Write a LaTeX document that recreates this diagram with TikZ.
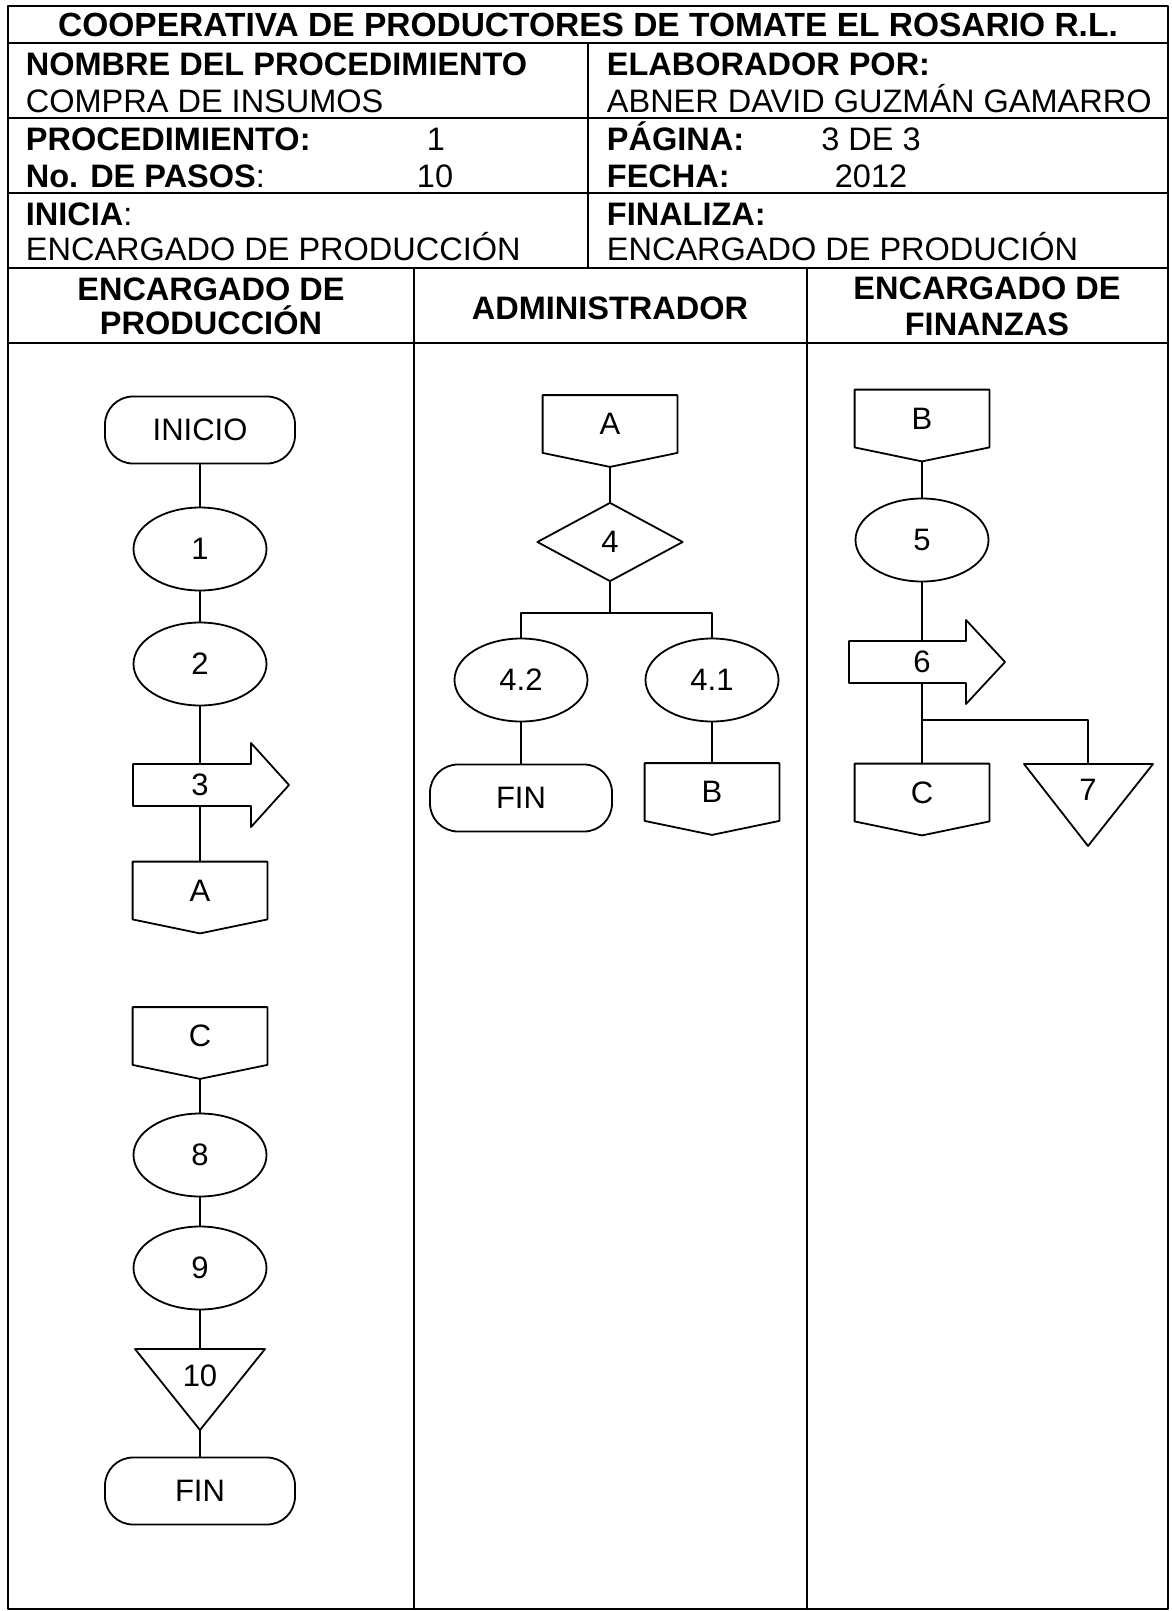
\documentclass[tikz,border=0pt]{standalone}
\usepackage{fontspec}
\setmainfont{Liberation Sans}
\usetikzlibrary{shapes.geometric}
\newcommand{\pagcon}[3]{%
  \node[minimum width=133,minimum height=56] (#1) at (#2) {#3};
  \draw (#1.north west)--(#1.north east)--(#1.south east)--([yshift=-14pt]#1.south)coordinate(#1-p)--(#1.south west)--cycle;}
\begin{document}
\begin{tikzpicture}[x=1pt,y=-1pt,line join=round,line cap=round,line width=1.8pt,
  font=\fontsize{31}{36}\selectfont,
  every node/.style={inner sep=0pt},
  proc/.style={draw,ellipse,minimum width=133,minimum height=83},
  term/.style={draw,rounded corners=28,minimum width=190,minimum height=67},
  dec/.style={draw,diamond,minimum width=146,minimum height=79},
  txt/.style={anchor=base west,font=\fontsize{32.5}{38}\selectfont},
  num/.style={anchor=base,font=\fontsize{32.5}{38}\selectfont},
  bold/.style={anchor=base,font=\fontsize{32.5}{38}\selectfont\bfseries}]
\useasboundingbox (0,0) rectangle (1172,1611);
\draw[line width=2.2pt] (8,6) rectangle (1168,1609);
\foreach \y in {43,118,193,268,343} \draw[line width=2.2pt] (8,\y)--(1168,\y);
\draw[line width=2.2pt] (588,43)--(588,268) (414,268)--(414,1609) (807,268)--(807,1609);
\node[bold,font=\fontsize{33.5}{38}\selectfont\bfseries] (tit) at (588,37) {COOPERATIVA DE PRODUCTORES DE TOMATE EL ROSARIO R.L.};
\node[txt] (nom) at (25,75) {\bfseries NOMBRE DEL PROCEDIMIENTO};
\node[txt] (nomv) at (25,112) {COMPRA DE INSUMOS};
\node[txt] (proc) at (25,150) {\bfseries PROCEDIMIENTO:};
\node[num] (procv) at (436,150) {1};
\node[txt] (pasos) at (25,187) {\textbf{No. DE PASOS}:};
\node[num] (pasosv) at (435,187) {10};
\node[txt] (ini) at (25,225) {\textbf{INICIA}:};
\node[txt] (iniv) at (25,260) {ENCARGADO DE PRODUCCIÓN};
\node[txt] (elab) at (606,75) {\bfseries ELABORADOR POR:};
\node[txt] (elabv) at (606,112) {ABNER DAVID GUZMÁN GAMARRO};
\node[txt] (pag) at (606,150) {\bfseries PÁGINA:};
\node[num] (pagv) at (871,150) {3 DE 3};
\node[txt] (fec) at (606,187) {\bfseries FECHA:};
\node[num] (fecv) at (871,187) {2012};
\node[txt] (fina) at (606,225) {\bfseries FINALIZA:};
\node[txt] (finav) at (606,260) {ENCARGADO DE PRODUCIÓN};
\node[bold] (h1a) at (211,300) {ENCARGADO DE};
\node[bold] (h1b) at (211,334) {PRODUCCIÓN};
\node[bold] (h2) at (610,319) {ADMINISTRADOR};
\node[bold] (h3a) at (987,299) {ENCARGADO DE};
\node[bold] (h3b) at (987,335) {FINANZAS};
% encargado de produccion
\node[term] (inicio) at (200,430) {INICIO};
\node[proc] (p1) at (200,549) {1};
\node[proc] (p2) at (200,664) {2};
\node[minimum height=42] (p3) at (200,785) {3};
\draw (133,764)--(251,764)--(251,743)--(289,785)--(251,827)--(251,806)--(133,806)--cycle;
\pagcon{a1}{200,890.5}{A}
\pagcon{c1}{200,1036}{C}
\node[proc] (p8) at (200,1155) {8};
\node[proc] (p9) at (200,1268) {9};
\node (p10) at (200,1376) {10};
\draw (135,1349)--(265,1349)--(200,1430)coordinate(p10s)--cycle;
\coordinate (p10n) at (200,1349);
\node[term] (fin1) at (200,1491) {FIN};
\draw (inicio)--(p1) (p1)--(p2) (p2)--(p3) (p3)--(a1);
\draw (c1-p)--(p8) (p8)--(p9) (p9)--(p10n) (p10s)--(fin1);
% administrador
\pagcon{a2}{610,424}{A}
\node[dec] (p4) at (610,542) {4};
\coordinate (r4) at (610,613);
\node[proc] (p42) at (521,680) {4.2};
\node[proc] (p41) at (712,680) {4.1};
\node[term,minimum width=182] (fin2) at (521,798) {FIN};
\pagcon{b2}{712,792}{B}
\draw (a2-p)--(p4) (p4)--(r4) (p42)|-(r4)-|(p41);
\draw (p42)--(fin2) (p41)--(b2);
% encargado de finanzas
\pagcon{b3}{922,418.5}{B}
\node[proc] (p5) at (922,540) {5};
\node[minimum height=42] (p6) at (922,662) {6};
\draw (849,641)--(966,641)--(966,620)--(1005,662)--(966,704)--(966,683)--(849,683)--cycle;
\coordinate (r6) at (922,720);
\pagcon{c3}{922,792.5}{C}
\node (p7) at (1088,790) {7};
\draw (1024,764)--(1153,764)--(1088,846)--cycle;
\coordinate (p7n) at (1088,764);
\draw (b3-p)--(p5) (p5)--(p6) (p6)--(c3) (r6)-|(p7n);
\end{tikzpicture}
\end{document}
